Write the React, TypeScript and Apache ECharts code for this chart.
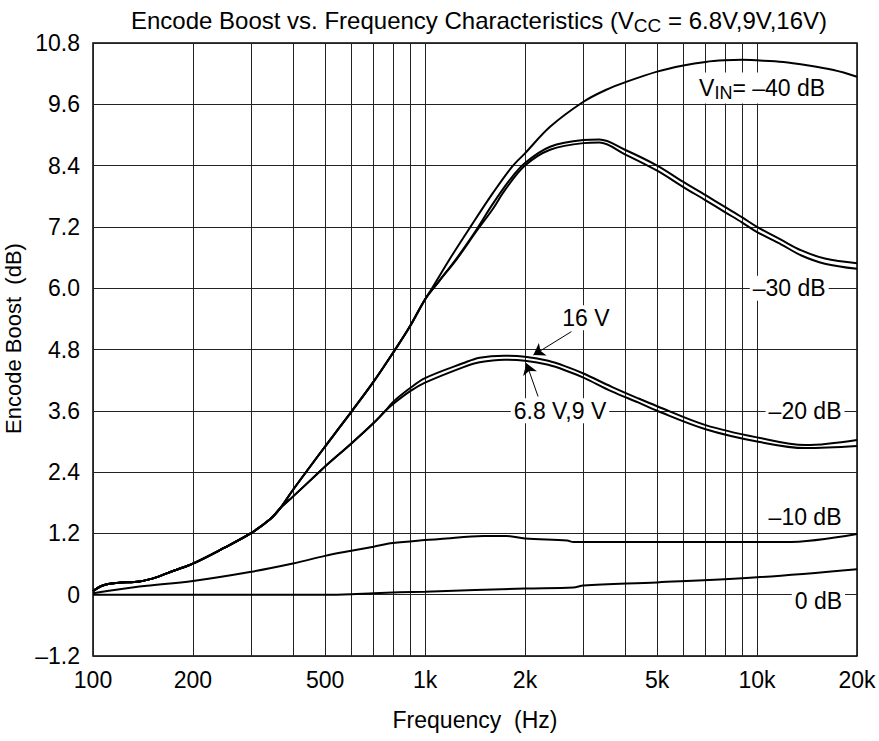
import React, { useEffect, useRef } from 'react';
import * as echarts from 'echarts';

const FONT = "'Liberation Sans', Arial, Helvetica, sans-serif";

// Axis ticks / grid
const xGridFreqs = [100, 200, 300, 400, 500, 600, 700, 800, 900, 1000, 2000, 3000, 4000, 5000, 6000, 7000, 8000, 9000, 10000, 20000];
const xTickFreqs = [100, 200, 500, 1000, 2000, 5000, 10000, 20000];
const xTickLabels = ['100', '200', '500', '1k', '2k', '5k', '10k', '20k'];
const yMin = -1.2;
const yMax = 10.8;
const yStep = 1.2;

// V_IN = -40 dB
const vin40Freq = [100, 107, 118, 138, 155, 175, 200, 247, 300, 342, 366, 400, 500, 600, 700, 800, 900, 1000, 1050, 1200, 1370, 1600, 1830, 2000, 2380, 3000, 3500, 4000, 5000, 6000, 7000, 8000, 9000, 10000, 12000, 14000, 17000, 20000];
const vin40Boost = [0.07, 0.18, 0.23, 0.26, 0.34, 0.47, 0.61, 0.91, 1.21, 1.48, 1.69, 2.05, 2.9, 3.58, 4.17, 4.73, 5.25, 5.78, 6.0, 6.62, 7.2, 7.86, 8.38, 8.64, 9.16, 9.65, 9.88, 10.03, 10.24, 10.36, 10.43, 10.46, 10.47, 10.46, 10.43, 10.37, 10.27, 10.14];

// V_IN = -30 dB, 16 V
const vin30HiFreq = [100, 107, 118, 138, 155, 175, 200, 247, 300, 342, 366, 400, 500, 600, 700, 800, 900, 1000, 1100, 1250, 1430, 1600, 1800, 2000, 2380, 3000, 3350, 4000, 5000, 6000, 7000, 8000, 9000, 10000, 11800, 13600, 16000, 20000];
const vin30HiBoost = [0.07, 0.18, 0.23, 0.26, 0.34, 0.47, 0.61, 0.91, 1.21, 1.48, 1.69, 2.05, 2.9, 3.58, 4.17, 4.73, 5.25, 5.78, 6.13, 6.6, 7.15, 7.65, 8.12, 8.45, 8.77, 8.9, 8.91, 8.71, 8.4, 8.08, 7.82, 7.59, 7.39, 7.2, 6.95, 6.74, 6.58, 6.49];

// V_IN = -30 dB, 6.8 V / 9 V
const vin30LoFreq = [100, 107, 118, 138, 155, 175, 200, 247, 300, 342, 366, 400, 500, 600, 700, 800, 900, 1000, 1100, 1250, 1430, 1600, 1740, 2000, 2380, 3000, 3350, 4000, 5000, 6000, 7000, 8000, 9000, 10000, 11800, 13600, 16000, 20000];
const vin30LoBoost = [0.07, 0.18, 0.23, 0.26, 0.34, 0.47, 0.61, 0.91, 1.21, 1.48, 1.69, 2.05, 2.9, 3.58, 4.17, 4.73, 5.25, 5.78, 6.13, 6.58, 7.12, 7.55, 7.92, 8.4, 8.71, 8.84, 8.85, 8.62, 8.3, 7.98, 7.72, 7.49, 7.29, 7.1, 6.86, 6.64, 6.48, 6.38];

// V_IN = -20 dB, 16 V
const vin20HiFreq = [100, 107, 118, 138, 155, 175, 200, 247, 300, 342, 366, 400, 480, 500, 600, 700, 760, 800, 900, 1000, 1300, 1460, 1730, 2000, 2350, 2700, 3000, 3650, 4400, 5000, 7000, 10000, 14000, 20000];
const vin20HiBoost = [0.07, 0.18, 0.23, 0.26, 0.34, 0.47, 0.61, 0.91, 1.21, 1.48, 1.69, 1.92, 2.4, 2.51, 2.96, 3.36, 3.6, 3.77, 4.04, 4.24, 4.53, 4.64, 4.68, 4.66, 4.58, 4.45, 4.33, 4.07, 3.84, 3.69, 3.32, 3.08, 2.93, 3.03];

// V_IN = -20 dB, 6.8 V / 9 V
const vin20LoFreq = [100, 107, 118, 138, 155, 175, 200, 247, 300, 342, 366, 400, 480, 500, 600, 700, 760, 800, 900, 1000, 1300, 1460, 1730, 2000, 2350, 2700, 3000, 3650, 4400, 5000, 7000, 10000, 14000, 20000];
const vin20LoBoost = [0.07, 0.18, 0.23, 0.26, 0.34, 0.47, 0.61, 0.91, 1.21, 1.48, 1.69, 1.92, 2.4, 2.51, 2.96, 3.36, 3.6, 3.73, 3.98, 4.15, 4.45, 4.55, 4.6, 4.58, 4.5, 4.37, 4.25, 3.98, 3.76, 3.6, 3.24, 3.0, 2.87, 2.91];

// V_IN = -10 dB
const vin10Freq = [100, 138, 200, 300, 400, 500, 600, 700, 800, 1000, 1110, 1500, 1760, 2000, 2680, 2800, 12100, 20000];
const vin10Boost = [0.03, 0.16, 0.27, 0.45, 0.61, 0.76, 0.86, 0.94, 1.01, 1.07, 1.09, 1.15, 1.15, 1.1, 1.06, 1.03, 1.03, 1.19];

// V_IN = 0 dB
const vin0Freq = [100, 300, 500, 600, 700, 1000, 2000, 2800, 3000, 5000, 10000, 20000];
const vin0Boost = [0.0, 0.0, 0.0, 0.01, 0.03, 0.06, 0.12, 0.14, 0.18, 0.24, 0.34, 0.5];

// Annotation texts and anchor points [Hz, dB]
const noteTexts = ['{a|V}{s|IN}{a|= \u201340 dB}', '\u201330 dB', '\u201320 dB', '\u201310 dB', '0 dB', '16 V', '6.8 V,9 V'];
const noteFreq = [10360, 12500, 13950, 13950, 15300, 3050, 2550];
const noteBoost = [9.92, 6.0, 3.6, 1.52, -0.12, 5.42, 3.6];
const noteBg = [true, true, true, false, true, true, true];

// Arrows [fromHz, fromDb, toHz, toDb]
const arrow16V = [2760, 5.15, 2120, 4.69];
const arrow68V = [2190, 3.88, 2020, 4.53];

const lx = (f: number) => Math.log10(f);
const pairs = (fs: number[], vs: number[]) => fs.map((f, i) => [lx(f), vs[i]]);

const FS = 23;

const richStyles = {
  a: { fontFamily: FONT, fontSize: FS, fontWeight: 'normal', color: '#000' },
  s: { fontFamily: FONT, fontSize: 18, fontWeight: 'normal', color: '#000', padding: [11, 0, 0, 0] },
};

const titleRich = {
  a: { fontFamily: FONT, fontSize: 24, fontWeight: 'normal', color: '#000' },
  s: { fontFamily: FONT, fontSize: 19, fontWeight: 'normal', color: '#000', padding: [11, 0, 0, 0] },
};

function lineSeries(name: string, fs: number[], vs: number[], extra: any = {}) {
  return {
    type: 'line',
    name,
    data: pairs(fs, vs),
    showSymbol: false,
    symbol: 'none',
    smooth: 0.35,
    lineStyle: { color: '#000', width: 2 },
    silent: true,
    z: 3,
    ...extra,
  };
}

const notes = noteTexts.map((t, i) => ({
  coord: [lx(noteFreq[i]), noteBoost[i]],
  symbol: 'rect',
  symbolSize: 0,
  label: {
    show: true,
    position: 'inside',
    formatter: t,
    fontFamily: FONT,
    fontSize: FS,
    color: '#000',
    backgroundColor: noteBg[i] ? '#fff' : 'transparent',
    padding: [1, 3],
    rich: richStyles,
  },
}));

const arrowLine = (a: number[]) => [
  { coord: [lx(a[0]), a[1]], symbol: 'none' },
  { coord: [lx(a[2]), a[3]], symbol: 'arrow', symbolSize: 11 },
];

const option: any = {
  animation: false,
  backgroundColor: '#fff',
  textStyle: { fontFamily: FONT },
  title: {
    text: '{a|Encode Boost vs. Frequency Characteristics (V}{s|CC}{a| = 6.8V,9V,16V)}',
    left: 474,
    top: 0,
    textAlign: 'center',
    textStyle: { fontWeight: 'normal', rich: titleRich },
  },
  grid: {
    left: 93,
    right: 22,
    top: 43,
    bottom: 85,
    show: true,
    borderColor: '#000',
    borderWidth: 1.5,
    backgroundColor: 'transparent',
    containLabel: false,
    outerBoundsMode: 'none',
  },
  xAxis: {
    type: 'value',
    min: lx(100),
    max: lx(20000),
    name: 'Frequency  (Hz)',
    nameLocation: 'middle',
    nameGap: 52,
    nameTextStyle: { fontFamily: FONT, fontSize: FS, color: '#000' },
    axisLine: { show: false },
    axisTick: { show: false, customValues: xGridFreqs.map(lx) },
    axisLabel: {
      customValues: xTickFreqs.map(lx),
      margin: 12,
      fontFamily: FONT,
      fontSize: FS,
      color: '#000',
      formatter: (v: number) => {
        const f = Math.round(Math.pow(10, v));
        const i = xTickFreqs.indexOf(f);
        return i >= 0 ? xTickLabels[i] : '';
      },
    },
    splitLine: { show: true, lineStyle: { color: '#222', width: 1 } },
  },
  yAxis: {
    type: 'value',
    min: yMin,
    max: yMax,
    interval: yStep,
    name: 'Encode Boost  (dB)',
    nameLocation: 'middle',
    nameGap: 56,
    nameRotate: 90,
    nameTextStyle: { fontFamily: FONT, fontSize: 22, color: '#000', padding: [0, 0, 0, 22] },
    axisLine: { show: false },
    axisTick: { show: false },
    axisLabel: {
      margin: 13,
      fontFamily: FONT,
      fontSize: FS,
      color: '#000',
      formatter: (v: number) => {
        if (Math.abs(v) < 1e-9) return '0';
        return v < 0 ? '\u2013' + Math.abs(v).toFixed(1) : v.toFixed(1);
      },
    },
    splitLine: { show: true, lineStyle: { color: '#222', width: 1 } },
  },
  series: [
    lineSeries('-40 dB', vin40Freq, vin40Boost),
    lineSeries('-30 dB 16 V', vin30HiFreq, vin30HiBoost),
    lineSeries('-30 dB 6.8 V,9 V', vin30LoFreq, vin30LoBoost),
    lineSeries('-20 dB 16 V', vin20HiFreq, vin20HiBoost, {
      markLine: {
        silent: true,
        symbol: ['none', 'arrow'],
        symbolSize: 11,
        label: { show: false },
        lineStyle: { color: '#000', width: 1, type: 'solid' },
        emphasis: { disabled: true },
        data: [arrowLine(arrow16V), arrowLine(arrow68V)],
      },
    }),
    lineSeries('-20 dB 6.8 V,9 V', vin20LoFreq, vin20LoBoost),
    lineSeries('-10 dB', vin10Freq, vin10Boost),
    lineSeries('0 dB', vin0Freq, vin0Boost, {
      markPoint: {
        silent: true,
        data: notes,
      },
    }),
  ],
};

export default function App() {
  const ref = useRef<HTMLDivElement>(null);
  useEffect(() => {
    if (!ref.current) return;
    const chart = echarts.init(ref.current, null, { renderer: 'svg' });
    chart.setOption(option);
    return () => chart.dispose();
  }, []);
  return (
    <div
      ref={ref}
      style={{ position: 'absolute', left: 0, top: 0, width: 879, height: 741, background: '#fff' }}
    />
  );
}
